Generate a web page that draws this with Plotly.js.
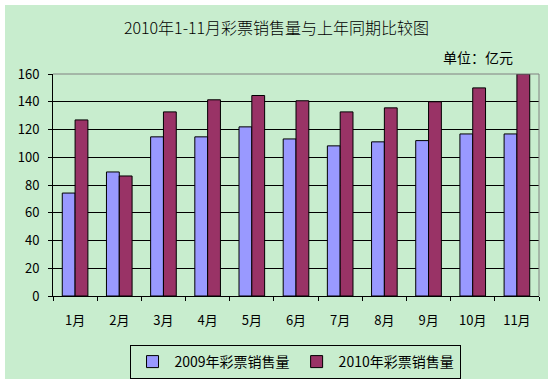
<!DOCTYPE html>
<html>
<head>
<meta charset="utf-8">
<script src="https://cdn.plot.ly/plotly-3.0.1.min.js"></script>
<style>
html,body{margin:0;padding:0;background:#ffffff;}
#chart{position:absolute;left:5px;top:5px;width:543px;height:374px;}
</style>
</head>
<body>
<div id="chart"></div>
<script>
const months = ["1月","2月","3月","4月","5月","6月","7月","8月","9月","10月","11月"];
const sales2009 = [74.2, 89.4, 114.7, 114.7, 121.9, 113.2, 108.2, 111.1, 112.0, 116.8, 116.8];
const sales2010 = [126.9, 86.5, 132.7, 141.4, 144.5, 140.7, 132.7, 135.6, 140.0, 150.0, 160.0];
const seriesNames = ["2009年彩票销售量", "2010年彩票销售量"];
const yTicks = [0, 20, 40, 60, 80, 100, 120, 140, 160];

const FONT = '"Noto Sans CJK SC", "DejaVu Sans", sans-serif';
const BG = '#c8edce';

const traces = [
  {type:'bar', name: seriesNames[0], x: months, y: sales2009,
   marker:{color:'#9999ff', line:{color:'#000000', width:1}}},
  {type:'bar', name: seriesNames[1], x: months, y: sales2010,
   marker:{color:'#993366', line:{color:'#000000', width:1}}}
];

const layout = {
  width: 543, height: 374,
  paper_bgcolor: BG, plot_bgcolor: BG,
  margin: {l:48, r:9, t:69, b:83, autoexpand:false},
  font: {family: FONT, size: 13, color:'#000000'},
  title: {text: '2010年1-11月彩票销售量与上年同期比较图', x: 0.5, xanchor:'center', xref:'container',
          y: 1 - 23/374, yanchor:'middle', yref:'container',
          font:{family: FONT, size: 16, color:'#000000', weight: 300}},
  barmode: 'group', bargap: 0.42, bargroupgap: 0,
  showlegend: true,
  legend: {orientation:'h', x: 0.498, xanchor:'center', yref:'container', y: (374-340)/374, yanchor:'top',
           bordercolor:'#000000', borderwidth:1, bgcolor: BG,
           font:{family: FONT, size: 14}, itemwidth: 34, traceorder:'normal', tracegroupgap:0},
  xaxis: {type:'category', showgrid:false, showline:true, linecolor:'#000000', linewidth:1, automargin:false,
          ticks:'outside', tickson:'boundaries', ticklen:4, tickcolor:'#000000',
          ticklabelstandoff: 12, tickfont:{family: FONT, size: 13}, fixedrange:true},
  yaxis: {range:[0,160], tickvals: yTicks, ticktext: yTicks.map(String), automargin:false,
          showgrid:true, gridcolor:'#000000', gridwidth:1, zeroline:false,
          showline:true, linecolor:'#000000', linewidth:1,
          ticks:'outside', ticklen:4, tickcolor:'#000000', ticklabelstandoff: 6,
          tickfont:{family: FONT, size: 13}, fixedrange:true},
  shapes: [
    {type:'line', xref:'paper', yref:'paper', x0:0, x1:1, y0:1, y1:1, layer:'above',
     line:{color:'#808080', width:1}},
    {type:'line', xref:'paper', yref:'paper', x0:1, x1:1, y0:0, y1:1, layer:'above',
     line:{color:'#808080', width:1}}
  ],
  annotations: [
    {text:'单位：亿元', xref:'paper', yref:'paper', x: (478-5-48)/486, y: (291-52)/222,
     xanchor:'center', yanchor:'middle', showarrow:false,
     font:{family: FONT, size: 14, color:'#000000'}}
  ]
};

Plotly.newPlot('chart', traces, layout, {displayModeBar:false, staticPlot:true});
</script>
</body>
</html>
